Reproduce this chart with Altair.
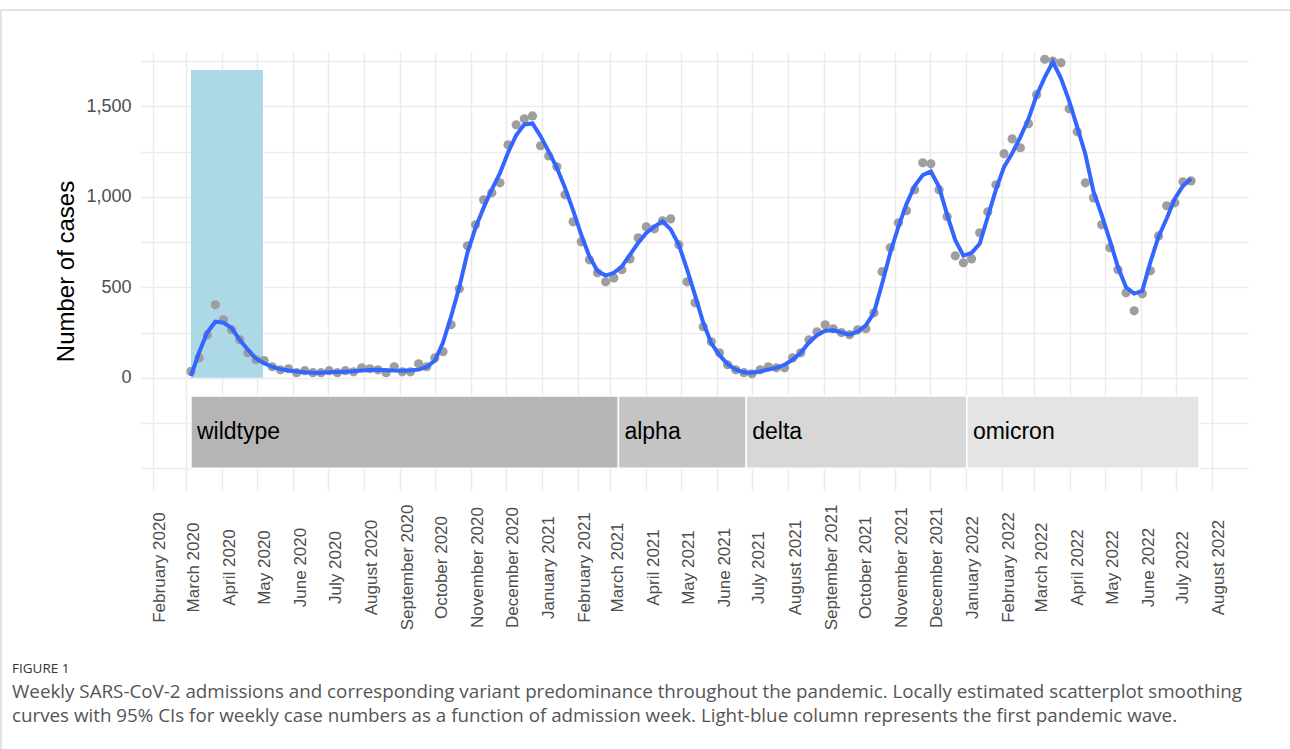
import altair as alt
import pandas as pd

# ---------------- data ----------------
first_week = "2020-03-05"
cases = [35, 110, 237, 403, 320, 265, 210, 138, 100, 95,
         61, 44, 50, 28, 39, 28, 28, 39, 28, 39,
         33, 55, 50, 44, 28, 61, 33, 33, 77, 61,
         110, 144, 293, 492, 729, 845, 983, 1022, 1077, 1287,
         1398, 1431, 1447, 1282, 1226, 1166, 1011, 862, 751, 652,
         580, 530, 552, 597, 657, 773, 834, 823, 867, 878,
         735, 530, 414, 282, 199, 138, 72, 44, 28, 22,
         44, 61, 55, 55, 110, 138, 210, 254, 293, 271,
         250, 238, 265, 271, 359, 586, 718, 856, 923, 1039,
         1188, 1182, 1039, 890, 674, 635, 657, 801, 917, 1066,
         1238, 1320, 1271, 1403, 1564, 1760, 1750, 1740, 1486, 1359,
         1077, 994, 845, 718, 597, 470, 370, 464, 591, 784,
         950, 967, 1083, 1088]
smooth = [10, 140, 250, 310, 305, 275, 210, 155, 105, 80,
          60, 48, 40, 35, 30, 28, 28, 30, 32, 34,
          36, 40, 43, 44, 42, 40, 39, 41, 45, 60,
          95, 195, 340, 500, 690, 830, 940, 1040, 1130, 1245,
          1340, 1400, 1405, 1335, 1250, 1160, 1050, 925, 790, 670,
          590, 565, 580, 615, 680, 745, 800, 835, 865, 820,
          735, 600, 455, 305, 190, 125, 75, 45, 30, 28,
          35, 45, 55, 72, 100, 138, 195, 235, 260, 262,
          250, 238, 255, 290, 360, 520, 690, 834, 960, 1060,
          1120, 1140, 1055, 900, 760, 675, 690, 740, 890, 1040,
          1165, 1240, 1330, 1430, 1560, 1660, 1745, 1655, 1530, 1385,
          1235, 1030, 900, 760, 613, 500, 465, 480, 640, 780,
          880, 990, 1060, 1100]

variants = ["wildtype", "alpha", "delta", "omicron"]
variant_start = ["2020-03-05", "2021-03-08", "2021-06-26", "2022-01-02"]
variant_end = ["2021-03-08", "2021-06-26", "2022-01-02", "2022-07-21"]
variant_colors = ["#b5b5b5", "#c4c4c4", "#d7d7d7", "#e4e4e4"]

wave_start = ["2020-03-05"]
wave_end = ["2020-05-06"]
wave_top = [1700]

x_domain = ["2020-01-22", "2022-09-01"]
tick_months = pd.date_range("2020-02-01", "2022-08-01", freq="MS")
y_ticks = list(range(-500, 1751, 250))

caption_title = "FIGURE 1"
caption_lines = [
    "Weekly SARS-CoV-2 admissions and corresponding variant predominance throughout the pandemic. Locally estimated scatterplot smoothing",
    "curves with 95% CIs for weekly case numbers as a function of admission week. Light-blue column represents the first pandemic wave.",
]

# ---------------- tables ----------------
weeks = pd.date_range(first_week, periods=len(cases), freq="7D").strftime("%Y-%m-%d").tolist()
df = pd.DataFrame({"week": weeks, "cases": cases, "fit": smooth})
bands = pd.DataFrame({"variant": variants, "start": variant_start, "end": variant_end})
wave = pd.DataFrame({"start": wave_start, "end": wave_end, "top": wave_top})
dummy = pd.DataFrame({"f": [0]})


def ms(d):
    return int(pd.Timestamp(d, tz="UTC").value // 10**6)


tick_ms = [ms(t) for t in tick_months]
x_dom_ms = [ms(d) for d in x_domain]

FONT = "Liberation Sans"
GRID = dict(grid=True, gridColor="#ebebeb", gridWidth=1.5, domain=False, ticks=False)

x_scale = alt.Scale(type="utc", domain=x_dom_ms, nice=False)
x_axis = alt.Axis(values=tick_ms, format="%B %Y", labelAngle=-90, labelAlign="center",
                  labelBaseline="middle", labelPadding=77, labelOffset=7, labelFontSize=17,
                  labelColor="#4d4d4d", labelFont=FONT, title=None,
                  labelOverlap=False, labelBound=False, labelFlush=False, **GRID)
y_scale = alt.Scale(domain=[-620, 1800], nice=False, zero=False)
y_axis = alt.Axis(values=y_ticks,
                  labelExpr="datum.value >= 0 && datum.value % 500 == 0 ? format(datum.value, ',') : ''",
                  title="Number of cases", titleFontSize=24, titleFont=FONT,
                  titleFontWeight="normal", titleColor="black", titlePadding=7,
                  labelFontSize=18, labelColor="#4d4d4d", labelFont=FONT, labelPadding=10,
                  **GRID)


def X(field):
    return alt.X(field, type="temporal", scale=x_scale, axis=x_axis)


Y_kw = dict(scale=y_scale, axis=y_axis, title="Number of cases")

wave_layer = alt.Chart(wave).mark_rect(color="#ADD8E6").encode(
    x=X("start"), x2="end:T",
    y=alt.Y("top", type="quantitative", **Y_kw), y2=alt.datum(0))

band_layer = alt.Chart(bands).mark_rect(stroke="white", strokeWidth=1.5).encode(
    x=X("start"), x2="end:T",
    y=alt.datum(-500, type="quantitative", **Y_kw), y2=alt.datum(-100),
    color=alt.Color("variant:N", scale=alt.Scale(domain=variants, range=variant_colors), legend=None))

text_layer = alt.Chart(bands).mark_text(align="left", baseline="middle", dx=6, fontSize=23,
                                        font=FONT, color="black").encode(
    x=X("start"), y=alt.datum(-300, type="quantitative", **Y_kw),
    text="variant:N")

pts = alt.Chart(df).mark_circle(size=85, color="#9e9e9e", opacity=1).encode(
    x=X("week"), y=alt.Y("cases", type="quantitative", **Y_kw))

line = alt.Chart(df).mark_line(color="#3366FF", strokeWidth=4).encode(
    x=X("week"), y=alt.Y("fit", type="quantitative", **Y_kw))

# thin figure frame (top and left edges of the page box)
frame = alt.Chart(dummy).mark_rect(fillOpacity=0, stroke="#c8c8c8", strokeWidth=1).encode(
    x=alt.value(-140), x2=alt.value(1160), y=alt.value(-42), y2=alt.value(720))

# figure caption, placed below the axis labels
cap_head = alt.Chart(dummy).mark_text(
    text=caption_title, align="left", baseline="middle", font="Open Sans",
    fontSize=13.5, color="#333333").encode(x=alt.value(-129), y=alt.value(617))
cap_1 = alt.Chart(dummy).mark_text(
    text=caption_lines[0], align="left", baseline="middle", font="Open Sans",
    fontSize=18.8, color="#555555").encode(x=alt.value(-129), y=alt.value(640))
cap_2 = alt.Chart(dummy).mark_text(
    text=caption_lines[1], align="left", baseline="middle", font="Open Sans",
    fontSize=18.8, color="#555555").encode(x=alt.value(-129), y=alt.value(664))

chart = alt.layer(wave_layer, band_layer, text_layer, pts, line,
                  frame, cap_head, cap_1, cap_2).properties(
    width=1107, height=438,
    autosize=alt.AutoSizeParams(type="none"),
    padding={"left": 141, "top": 52, "right": 42, "bottom": 259},
    background="white",
).configure_view(stroke=None)

chart.save("out.html", embed_options={"renderer": "svg", "actions": False})
